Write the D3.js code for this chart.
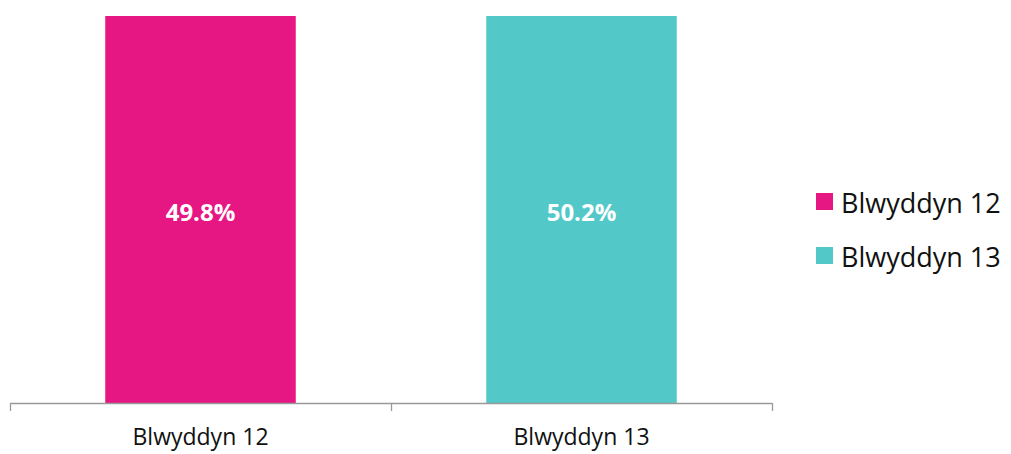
<!DOCTYPE html>
<html><head><meta charset="utf-8">
<script src="https://cdn.jsdelivr.net/npm/d3@7"></script>
<style>body{margin:0;background:#fff}svg{display:block}</style>
</head><body>
<script>
const categories = ["Blwyddyn 12", "Blwyddyn 13"];
const values = [49.8, 50.2];
const colors = ["#E61683", "#52C9C8"];
const yMax = 45; // axis maximum (bars exceed it and are clipped as in the reference)

const W = 1011, H = 454;
const svg = d3.select("body").append("svg").attr("width", W).attr("height", H);
const plot = {left: 10, right: 772, top: 16, bottom: 403};

const x = d3.scaleBand().domain(categories).range([plot.left, plot.right]).paddingInner(0.5).paddingOuter(0.25);
const y = d3.scaleLinear().domain([0, yMax]).range([plot.bottom, plot.top]).clamp(true);

svg.selectAll("rect.bar").data(values).join("rect").attr("class","bar")
  .attr("x", (d,i)=>x(categories[i])).attr("width", x.bandwidth())
  .attr("y", d=>y(d)).attr("height", d=>y(0)-y(d)).attr("fill",(d,i)=>colors[i]);

svg.selectAll("text.lbl").data(values).join("text").attr("class","lbl")
  .attr("x",(d,i)=>x(categories[i])+x.bandwidth()/2)
  .attr("y", d=>(y(d)+y(0))/2 + 11)
  .attr("text-anchor","middle")
  .attr("font-family","'Open Sans', sans-serif").attr("font-weight","bold").attr("font-size","24px")
  .attr("fill","#fff").text(d=>d.toFixed(1)+"%");

// x axis
const ax = svg.append("g");
ax.append("line").attr("x1",plot.left).attr("x2",plot.right).attr("y1",plot.bottom+0.5).attr("y2",plot.bottom+0.5).attr("stroke","#999").attr("stroke-width",1.3);
const edges = [plot.left, ...categories.map(c=>x(c)+x.bandwidth()/2+x.step()/2)];
ax.selectAll("line.tick").data(edges).join("line").attr("class","tick")
  .attr("x1",d=>d+0.5).attr("x2",d=>d+0.5).attr("y1",plot.bottom).attr("y2",plot.bottom+8).attr("stroke","#999").attr("stroke-width",1.3);
ax.selectAll("text").data(categories).join("text")
  .attr("x",d=>x(d)+x.bandwidth()/2).attr("y",plot.bottom+42)
  .attr("text-anchor","middle").attr("font-family","'Open Sans', sans-serif").attr("font-size","23px").attr("fill","#111").text(d=>d);

// legend
const lg = svg.append("g");
categories.forEach((c,i)=>{
  const cy = 201 + i*54;
  lg.append("rect").attr("x",816).attr("y",cy-8).attr("width",17).attr("height",17).attr("fill",colors[i]);
  lg.append("text").attr("x",841).attr("y",cy+12)
    .attr("font-family","'Open Sans', sans-serif").attr("font-size","27px").attr("fill","#111").text(c);
});
</script>
</body></html>
